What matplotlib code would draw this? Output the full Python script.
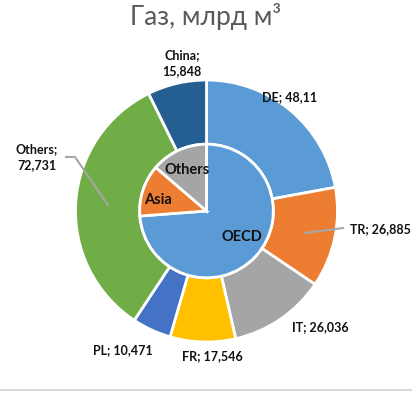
import matplotlib.pyplot as plt

# outer ring: countries
outer_labels = ['DE', 'TR', 'IT', 'FR', 'PL', 'Others', 'China']
outer_values = [48.11, 26.885, 26.036, 17.546, 10.471, 72.731, 15.848]
outer_colors = ['#5B9BD5', '#ED7D31', '#A5A5A5', '#FFC000', '#4472C4', '#70AD47', '#255E91']

# inner pie: groups
inner_labels = ['OECD', 'Asia', 'Others']
inner_values = [73.8, 12.5, 13.7]
inner_colors = ['#5B9BD5', '#ED7D31', '#A5A5A5']

plt.rcParams['font.family'] = ['Lato', 'DejaVu Sans']

fig = plt.figure(figsize=(4.12, 4.12), dpi=100)
ax = fig.add_axes([0, 0, 1, 1])

r_in = 0.51
ax.pie(outer_values, radius=1.0, colors=outer_colors, startangle=90, counterclock=False,
       wedgeprops=dict(width=1.0 - r_in, edgecolor='white', linewidth=2))
ax.pie(inner_values, radius=r_in, colors=inner_colors, startangle=90, counterclock=False,
       wedgeprops=dict(edgecolor='white', linewidth=2))

# pie() resets the limits, so set them afterwards
ax.set_xlim(-206.5 / 131, 205.5 / 131)
ax.set_ylim(-201 / 131, 211 / 131)
ax.set_aspect('equal')
ax.axis('off')


def px(x, y):
    return (x - 206.5) / 131, (211 - y) / 131


# data labels (pixel positions of label centres)
outer_pos = {
    'DE': (290, 97), 'TR': (380, 229), 'IT': (320, 327), 'FR': (212, 356),
    'PL': (123, 350), 'Others': (37, 157), 'China': (182, 63),
}
for name, val in zip(outer_labels, outer_values):
    txt = f'{name}; ' + f'{val:g}'.replace('.', ',')
    if name in ('Others', 'China'):
        txt = txt.replace('; ', ';\n')
    x, y = px(*outer_pos[name])
    ax.text(x, y, txt, ha='center', va='center', fontsize=9, fontweight='bold',
            color='#111111', linespacing=1.4)

# leader lines
lx, ly = zip(px(305, 233), px(343, 228))
ax.plot(lx, ly, color='#A6A6A6', lw=1.5)
lx, ly = zip(px(66, 157), px(75, 157), px(108, 205))
ax.plot(lx, ly, color='#A6A6A6', lw=1.5)

inner_pos = {'OECD': (242, 237), 'Asia': (158, 200), 'Others': (187, 170)}
for name in inner_labels:
    x, y = px(*inner_pos[name])
    ax.text(x, y, name, ha='center', va='center', fontsize=10.5, fontweight='bold', color='#111111')

fig.text(0.5, 1 - 17 / 412, 'Газ, млрд м³', ha='center', va='center', fontsize=19,
         color='#595959')
fig.add_artist(plt.Line2D([0, 1], [1 - 390 / 412] * 2, color='#D9D9D9', lw=1.5))

fig.savefig('out.png', dpi=100)
